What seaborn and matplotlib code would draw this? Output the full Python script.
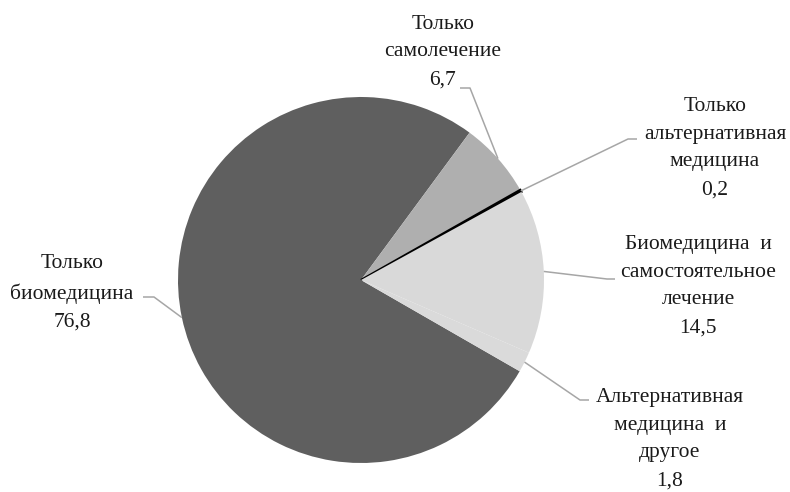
import numpy as np
import matplotlib
matplotlib.use("Agg")
import matplotlib.pyplot as plt
import seaborn as sns

sns.set_theme(style="white")
plt.rcParams["font.family"] = ["Liberation Serif", "DejaVu Serif"]

# Structure of treatment choices, %
categories = [
    "Только\nбиомедицина",
    "Только\nсамолечение",
    "Только\nальтернативная\nмедицина",
    "Биомедицина  и\nсамостоятельное\nлечение",
    "Альтернативная\nмедицина  и\nдругое",
]
shares = [76.8, 6.7, 0.2, 14.5, 1.8]
value_labels = ["76,8", "6,7", "0,2", "14,5", "1,8"]
colors = ["#5f5f5f", "#afafaf", "#000000", "#d9d9d9", "#dadada"]

W, H = 790, 492
R = 183.0          # pie radius in pixels
CX, CY = 361, 280  # pie centre in pixels (from top-left)


def px(x, y):
    """Pixel position (from top-left) to data units of the pie axes."""
    return (x - CX) / R, (CY - y) / R


fig = plt.figure(figsize=(W / 100, H / 100), dpi=100)
ax = fig.add_axes([0, 0, 1, 1])

wedges, _ = ax.pie(
    shares,
    colors=colors,
    startangle=-29.9,
    counterclock=False,
    radius=1.0,
    wedgeprops=dict(linewidth=0),
)
# the tiny slice gets a dark outline so it stays visible
wedges[2].set_edgecolor("#000000")
wedges[2].set_linewidth(1.6)

ax.set_xlim(-CX / R, (W - CX) / R)
ax.set_ylim(-(H - CY) / R, CY / R)
ax.set_aspect("equal")
ax.axis("off")

# label centre, elbow of the leader line, end of the leader line (pixels)
layout = [
    ((72, 293), (154, 297), (143, 297)),
    ((443, 52), (470, 88), (460, 88)),
    ((715, 148), (628, 139), (637, 139)),
    ((698, 286), (607, 279), (615, 279)),
    ((670, 439), (580, 400), (589, 400)),
]

for w, cat, val, (tc, elbow, end) in zip(wedges, categories, value_labels, layout):
    mid = np.deg2rad((w.theta1 + w.theta2) / 2)
    ex, ey = np.cos(mid), np.sin(mid)
    bx, by = px(*elbow)
    fx, fy = px(*end)
    ax.plot([ex, bx, fx], [ey, by, fy], color="#a6a6a6", lw=1.1,
            solid_capstyle="butt", zorder=1)
    tx, ty = px(*tc)
    ax.text(tx, ty, cat + "\n" + val, ha="center", va="center",
            fontsize=15.5, linespacing=1.63, color="#1a1a1a")

fig.savefig("out.png", dpi=100)
